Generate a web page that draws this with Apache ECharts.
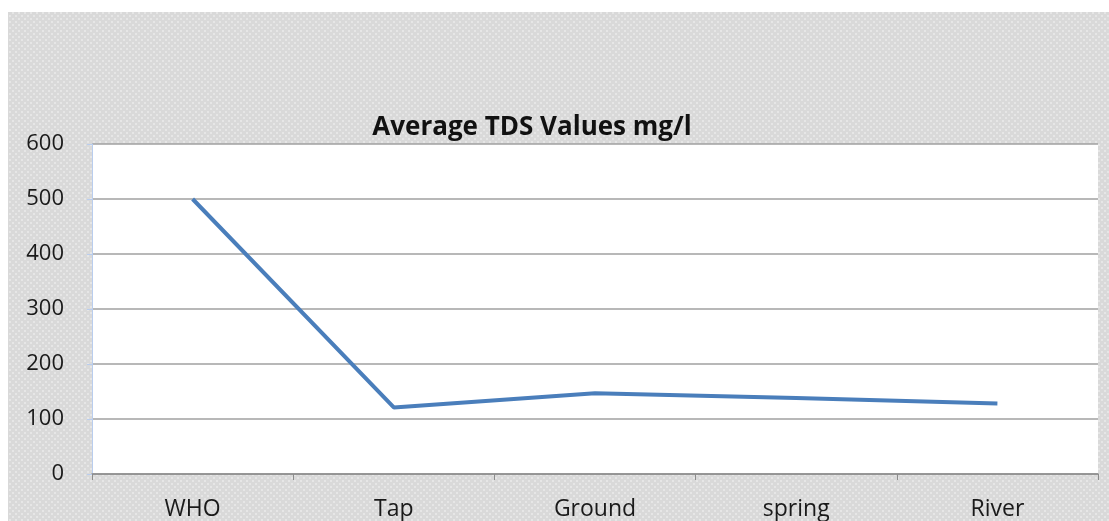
<!DOCTYPE html>
<html>
<head>
<meta charset="utf-8">
<script src="https://cdn.jsdelivr.net/npm/echarts@6/dist/echarts.min.js"></script>
<style>
    html, body { margin: 0; padding: 0; background: #fff; }
    #chart { width: 1109px; height: 521px; }
</style>
</head>
<body>
<div id="chart"></div>
<script>
// 数据
const categories = ['WHO', 'Tap', 'Ground', 'spring', 'River'];
const tdsValues = [500, 121, 147, 138, 128];
const yTicks = [0, 100, 200, 300, 400, 500, 600];

// 背景的点状纹理
function makeDotPattern() {
    const c = document.createElement('canvas');
    c.width = 6;
    c.height = 6;
    const ctx = c.getContext('2d');
    ctx.fillStyle = '#d9d9d9';
    ctx.fillRect(0, 0, 6, 6);
    ctx.fillStyle = '#e6e6e6';
    ctx.fillRect(0, 0, 2, 2);
    ctx.fillRect(3, 3, 2, 2);
    return c;
}

document.addEventListener('DOMContentLoaded', () => {
    const chart = echarts.init(document.getElementById('chart'));
    const textFont = '"Open Sans", "Liberation Sans", sans-serif';

    const option = {
        animation: false,
        graphic: [{
            type: 'rect',
            z: -10,
            silent: true,
            shape: { x: 8, y: 12, width: 1101, height: 509 },
            style: { fill: { image: makeDotPattern(), repeat: 'repeat' } }
        }],
        title: {
            text: 'Average TDS Values mg/l',
            left: 527,
            textAlign: 'center',
            top: 110,
            textStyle: {
                fontFamily: textFont,
                fontSize: 26,
                fontWeight: 'bold',
                color: '#111'
            }
        },
        grid: {
            left: 92,
            right: 11,
            top: 144,
            bottom: 46,
            show: true,
            backgroundColor: '#fff',
            borderWidth: 0
        },
        xAxis: {
            type: 'category',
            data: categories,
            boundaryGap: true,
            axisLine: { lineStyle: { color: '#8c8c8c', width: 1.5 } },
            axisTick: { show: true, length: 6, lineStyle: { color: '#8c8c8c' } },
            axisLabel: {
                fontFamily: textFont,
                fontSize: 23,
                color: '#1a1a1a',
                margin: 24
            },
            splitLine: { show: false }
        },
        yAxis: {
            type: 'value',
            min: yTicks[0],
            max: yTicks[yTicks.length - 1],
            interval: 100,
            axisLine: { show: true, lineStyle: { color: '#b9cdee', width: 1 } },
            axisTick: { show: true, length: 5, lineStyle: { color: '#b9cdee' } },
            axisLabel: {
                fontFamily: textFont,
                fontSize: 22,
                color: '#1a1a1a',
                margin: 28
            },
            splitLine: { lineStyle: { color: '#a0a0a0', width: 1.5 } }
        },
        series: [{
            name: 'Average TDS',
            type: 'line',
            data: tdsValues,
            symbol: 'none',
            lineStyle: { color: '#4a7ebb', width: 4 },
            itemStyle: { color: '#4a7ebb' }
        }]
    };

    chart.setOption(option);
    window.addEventListener('resize', () => chart.resize());
});
</script>
</body>
</html>
